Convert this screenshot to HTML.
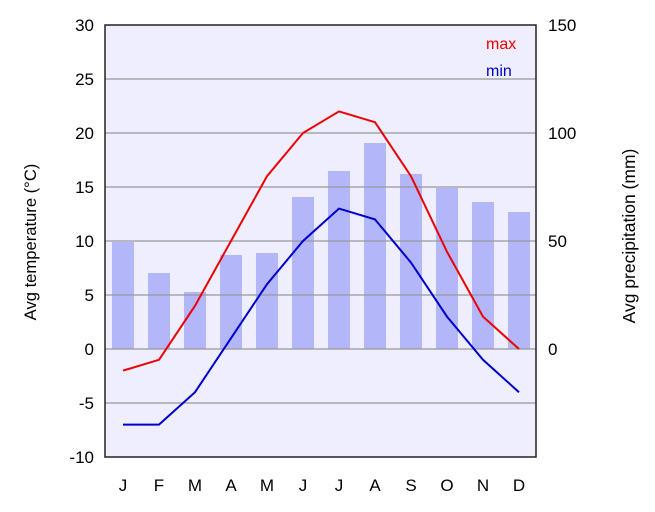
<!DOCTYPE html>
<html><head><meta charset="utf-8"><style>body{margin:0;background:#fff}svg{display:block}</style></head>
<body>
<svg width="655" height="512" xmlns="http://www.w3.org/2000/svg" font-family="Liberation Sans, sans-serif" font-size="17">
<rect x="105" y="25" width="431" height="432" fill="#eeeeff"/>
<g fill="#b3b6f9">
<rect x="112" y="242" width="22" height="107"/>
<rect x="148" y="273" width="22" height="76"/>
<rect x="184" y="292" width="22" height="57"/>
<rect x="220" y="255" width="22" height="94"/>
<rect x="256" y="253" width="22" height="96"/>
<rect x="292" y="197" width="22" height="152"/>
<rect x="328" y="171" width="22" height="178"/>
<rect x="364" y="143" width="22" height="206"/>
<rect x="400" y="174" width="22" height="175"/>
<rect x="436" y="188" width="22" height="161"/>
<rect x="472" y="202" width="22" height="147"/>
<rect x="508" y="212" width="22" height="137"/>
</g>
<g stroke="#999" stroke-width="1.3">
<line x1="105" x2="536" y1="79" y2="79"/><line x1="105" x2="536" y1="133" y2="133"/>
<line x1="105" x2="536" y1="187" y2="187"/><line x1="105" x2="536" y1="241" y2="241"/>
<line x1="105" x2="536" y1="295" y2="295"/><line x1="105" x2="536" y1="349" y2="349"/>
<line x1="105" x2="536" y1="403" y2="403"/>
</g>
<polyline fill="none" stroke="#e00" stroke-width="2" points="123,370.6 159,359.8 195,305.8 231,241 267,176.2 303,133 339,111.4 375,122.2 411,176.2 447,251.8 483,316.6 519,349"/>
<polyline fill="none" stroke="#0000cc" stroke-width="2" points="123,424.6 159,424.6 195,392.2 231,338.2 267,284.2 303,241 339,208.6 375,219.4 411,262.6 447,316.6 483,359.8 519,392.2"/>
<rect x="105" y="25" width="431" height="432" fill="none" stroke="#222" stroke-width="1.5"/>
<g text-anchor="end">
<text x="94" y="31">30</text><text x="94" y="85">25</text><text x="94" y="139">20</text><text x="94" y="193">15</text>
<text x="94" y="247">10</text><text x="94" y="301">5</text><text x="94" y="355">0</text><text x="94" y="409">-5</text><text x="94" y="463">-10</text>
</g>
<g>
<text x="548" y="31">150</text><text x="548" y="139">100</text><text x="548" y="247">50</text><text x="548" y="355">0</text>
</g>
<g text-anchor="middle">
<text x="123" y="491">J</text><text x="159" y="491">F</text><text x="195" y="491">M</text><text x="231" y="491">A</text>
<text x="267" y="491">M</text><text x="303" y="491">J</text><text x="339" y="491">J</text><text x="375" y="491">A</text>
<text x="411" y="491">S</text><text x="447" y="491">O</text><text x="483" y="491">N</text><text x="519" y="491">D</text>
</g>
<text x="486" y="49" fill="#e00" font-size="16">max</text>
<text x="486" y="76" fill="#0000cc" font-size="16">min</text>
<text transform="translate(36,242) rotate(-90)" text-anchor="middle" font-size="16.6">Avg temperature (°C)</text>
<text transform="translate(635,236) rotate(-90)" text-anchor="middle" font-size="17.5">Avg precipitation (mm)</text>
</svg>
</body></html>
